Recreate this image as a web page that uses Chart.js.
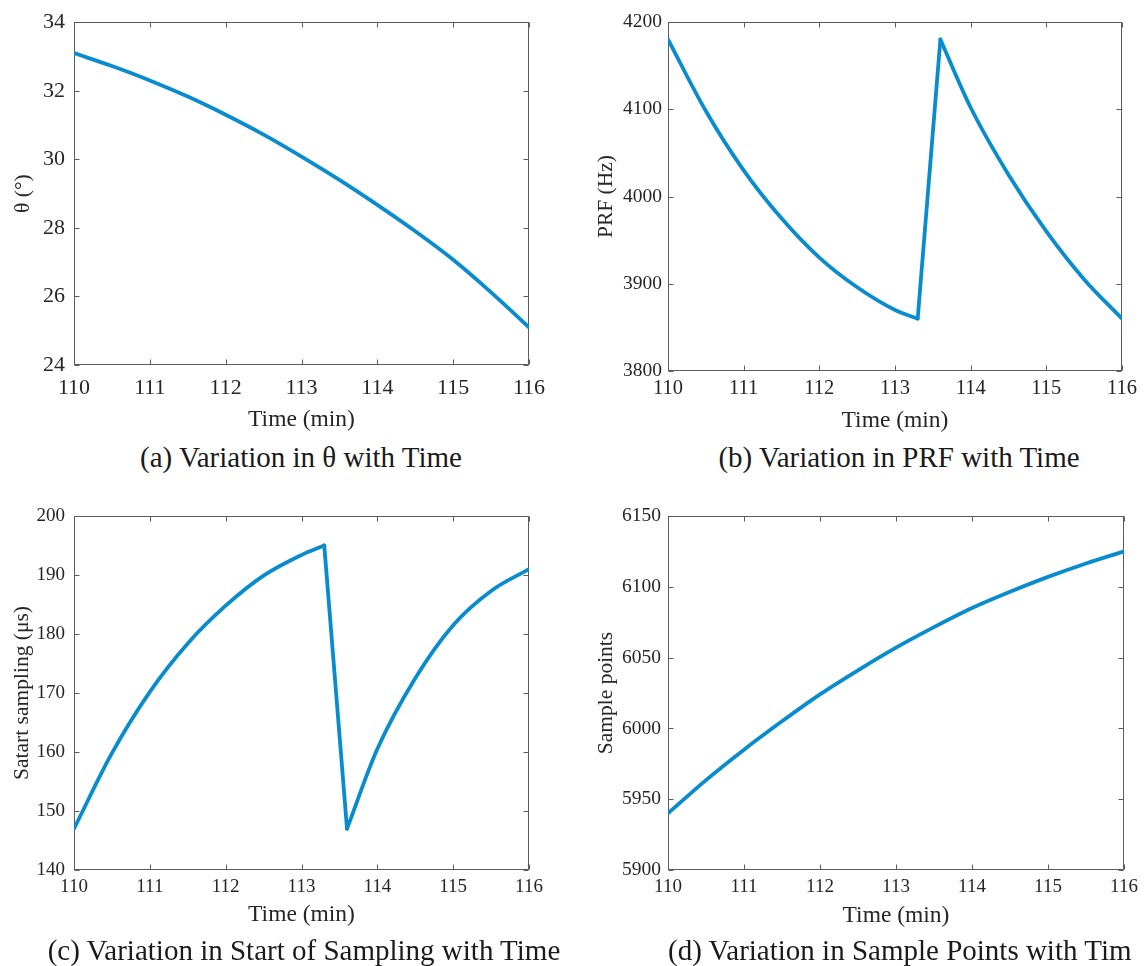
<!DOCTYPE html>
<html>
<head>
<meta charset="utf-8">
<script src="https://cdn.jsdelivr.net/npm/chart.js@4.4.0/dist/chart.umd.min.js"></script>
<style>
  body { margin:0; background:#fff; width:1145px; height:966px; overflow:hidden; position:relative;
         font-family:"Liberation Serif","Times New Roman",serif; }
  canvas { position:absolute; }
  .cap { position:absolute; font-size:29px; line-height:32px; color:#1a1a1a; white-space:nowrap; }
  .mid { transform:translateX(-50%); }
  .clip { position:absolute; left:668px; top:934px; width:463px; height:40px; overflow:hidden; }
</style>
</head>
<body>
<canvas id="chartA" width="570" height="440" style="left:0;top:0"></canvas>
<canvas id="chartB" width="575" height="440" style="left:570px;top:0"></canvas>
<canvas id="chartC" width="570" height="450" style="left:0;top:490px"></canvas>
<canvas id="chartD" width="575" height="450" style="left:570px;top:490px"></canvas>

<div class="cap mid" style="left:301px;top:441px">(a) Variation in θ with Time</div>
<div class="cap mid" style="left:899px;top:441px">(b) Variation in PRF with Time</div>
<div class="cap mid" style="left:304px;top:934px">(c) Variation in Start of Sampling with Time</div>
<div class="clip"><div class="cap" style="left:0;top:0">(d) Variation in Sample Points with Time</div></div>

<script>
// values (time in minutes)
const timeFull = [110, 110.5, 111, 111.5, 112, 112.5, 113, 113.5, 114, 114.5, 115, 115.5, 116];
const thetaDeg = [33.1, 32.72, 32.3, 31.83, 31.3, 30.72, 30.08, 29.4, 28.67, 27.9, 27.07, 26.12, 25.1];

const timeSeg1 = [110, 110.5, 111, 111.5, 112, 112.5, 113, 113.3];
const timeSeg2 = [113.6, 114, 114.5, 115, 115.5, 116];
const prfSeg1 = [4180, 4098, 4030, 3975, 3930, 3896, 3870, 3860];
const prfSeg2 = [4180, 4102, 4025, 3960, 3905, 3860];
const startSeg1 = [147, 159.8, 170.2, 178.4, 184.8, 189.9, 193.4, 195];
const startSeg2 = [147, 160.5, 172.5, 181.5, 187.3, 191];

const samplePts = [5940, 5963.5, 5985, 6005, 6024, 6041, 6057, 6071.5, 6085, 6096.5, 6107, 6116.5, 6125];

const blue = 'rgb(8,140,206)';
const textCol = '#262626';
const boxCol = '#5c5c5c';
const serif = '"Liberation Serif", "Times New Roman", serif';

function pts(xs, ys) {
  return xs.map((x, i) => ({x: x, y: ys[i]}));
}

function lineSet(data) {
  return {
    data: data,
    borderColor: blue,
    borderWidth: 3.8,
    pointRadius: 0,
    cubicInterpolationMode: 'monotone',
    borderCapStyle: 'round',
    borderJoinStyle: 'round',
    fill: false
  };
}

// matlab style box with inward ticks on every side
const boxPlugin = {
  id: 'box',
  beforeDatasetsDraw(chart) {
    const {ctx, chartArea: a, scales: {x, y}} = chart;
    const L = Math.round(a.left) + 0.5, R = Math.round(a.right) - 0.5;
    const T = Math.round(a.top) + 0.5, B = Math.round(a.bottom) - 0.5;
    ctx.save();
    ctx.strokeStyle = boxCol;
    ctx.lineWidth = 1;
    ctx.strokeRect(L, T, R - L, B - T);
    ctx.beginPath();
    x.ticks.forEach(t => {
      const px = Math.round(x.getPixelForValue(t.value)) + 0.5;
      ctx.moveTo(px, B); ctx.lineTo(px, B - 5);
      ctx.moveTo(px, T); ctx.lineTo(px, T + 5);
    });
    y.ticks.forEach(t => {
      const py = Math.round(y.getPixelForValue(t.value)) + 0.5;
      ctx.moveTo(L, py); ctx.lineTo(L + 5, py);
      ctx.moveTo(R, py); ctx.lineTo(R - 5, py);
    });
    ctx.stroke();
    ctx.restore();
  }
};

function makeChart(id, datasets, o) {
  const ctx = document.getElementById(id).getContext('2d');
  return new Chart(ctx, {
    type: 'line',
    data: {datasets: datasets},
    plugins: [boxPlugin],
    options: {
      responsive: false,
      animation: false,
      layout: {padding: {left: 0, right: o.padRight, top: o.padTop, bottom: 0}},
      plugins: {legend: {display: false}, tooltip: {enabled: false}},
      scales: {
        x: {
          type: 'linear', min: 110, max: 116,
          grid: {display: false, drawTicks: false},
          border: {display: false},
          ticks: {stepSize: 1, autoSkip: false, maxRotation: 0, padding: o.xTickPad,
                  color: textCol, font: {family: serif, size: o.xTickSize},
                  callback: v => String(v)},
          title: {display: true, text: 'Time (min)', color: textCol,
                  font: {family: serif, size: 23.5}, padding: {top: 0, bottom: o.xTitlePad}},
          afterFit: s => { s.height = o.xHeight; }
        },
        y: {
          type: 'linear', min: o.yMin, max: o.yMax,
          grid: {display: false, drawTicks: false},
          border: {display: false},
          ticks: {stepSize: o.yStep, autoSkip: false, padding: o.yTickPad,
                  color: textCol, font: {family: serif, size: o.yTickSize},
                  callback: v => String(v)},
          title: {display: true, text: o.yTitle, color: textCol,
                  font: {family: serif, size: 21.5}, padding: {top: o.yTitlePad, bottom: 0}},
          afterFit: s => { s.width = o.yWidth; }
        }
      }
    }
  });
}

makeChart('chartA', [lineSet(pts(timeFull, thetaDeg))], {
  yMin: 24, yMax: 34, yStep: 2, yTitle: 'θ (°)',
  padTop: 20, padRight: 41, yWidth: 74, xHeight: 75,
  xTickSize: 22, yTickSize: 22, xTickPad: 10, yTickPad: 9, xTitlePad: 6, yTitlePad: 10
});

const prfJump = [{x: timeSeg1[timeSeg1.length - 1], y: prfSeg1[prfSeg1.length - 1]},
                 {x: timeSeg2[0], y: prfSeg2[0]}];
makeChart('chartB', [lineSet(pts(timeSeg1, prfSeg1)), lineSet(prfJump), lineSet(pts(timeSeg2, prfSeg2))], {
  yMin: 3800, yMax: 4200, yStep: 100, yTitle: 'PRF (Hz)',
  padTop: 22, padRight: 23, yWidth: 98, xHeight: 69,
  xTickSize: 20.5, yTickSize: 19.5, xTickPad: 5, yTickPad: 6, xTitlePad: 5, yTitlePad: 23
});

const startJump = [{x: timeSeg1[timeSeg1.length - 1], y: startSeg1[startSeg1.length - 1]},
                   {x: timeSeg2[0], y: startSeg2[0]}];
makeChart('chartC', [lineSet(pts(timeSeg1, startSeg1)), lineSet(startJump), lineSet(pts(timeSeg2, startSeg2))], {
  yMin: 140, yMax: 200, yStep: 10, yTitle: 'Satart sampling (μs)',
  padTop: 26, padRight: 41, yWidth: 74, xHeight: 70,
  xTickSize: 19, yTickSize: 19, xTickPad: 6, yTickPad: 9, xTitlePad: 11, yTitlePad: 9
});

makeChart('chartD', [lineSet(pts(timeFull, samplePts))], {
  yMin: 5900, yMax: 6150, yStep: 50, yTitle: 'Sample points',
  padTop: 26, padRight: 21, yWidth: 98, xHeight: 70,
  xTickSize: 19, yTickSize: 19.5, xTickPad: 6, yTickPad: 7, xTitlePad: 10, yTitlePad: 23
});
</script>
</body>
</html>
